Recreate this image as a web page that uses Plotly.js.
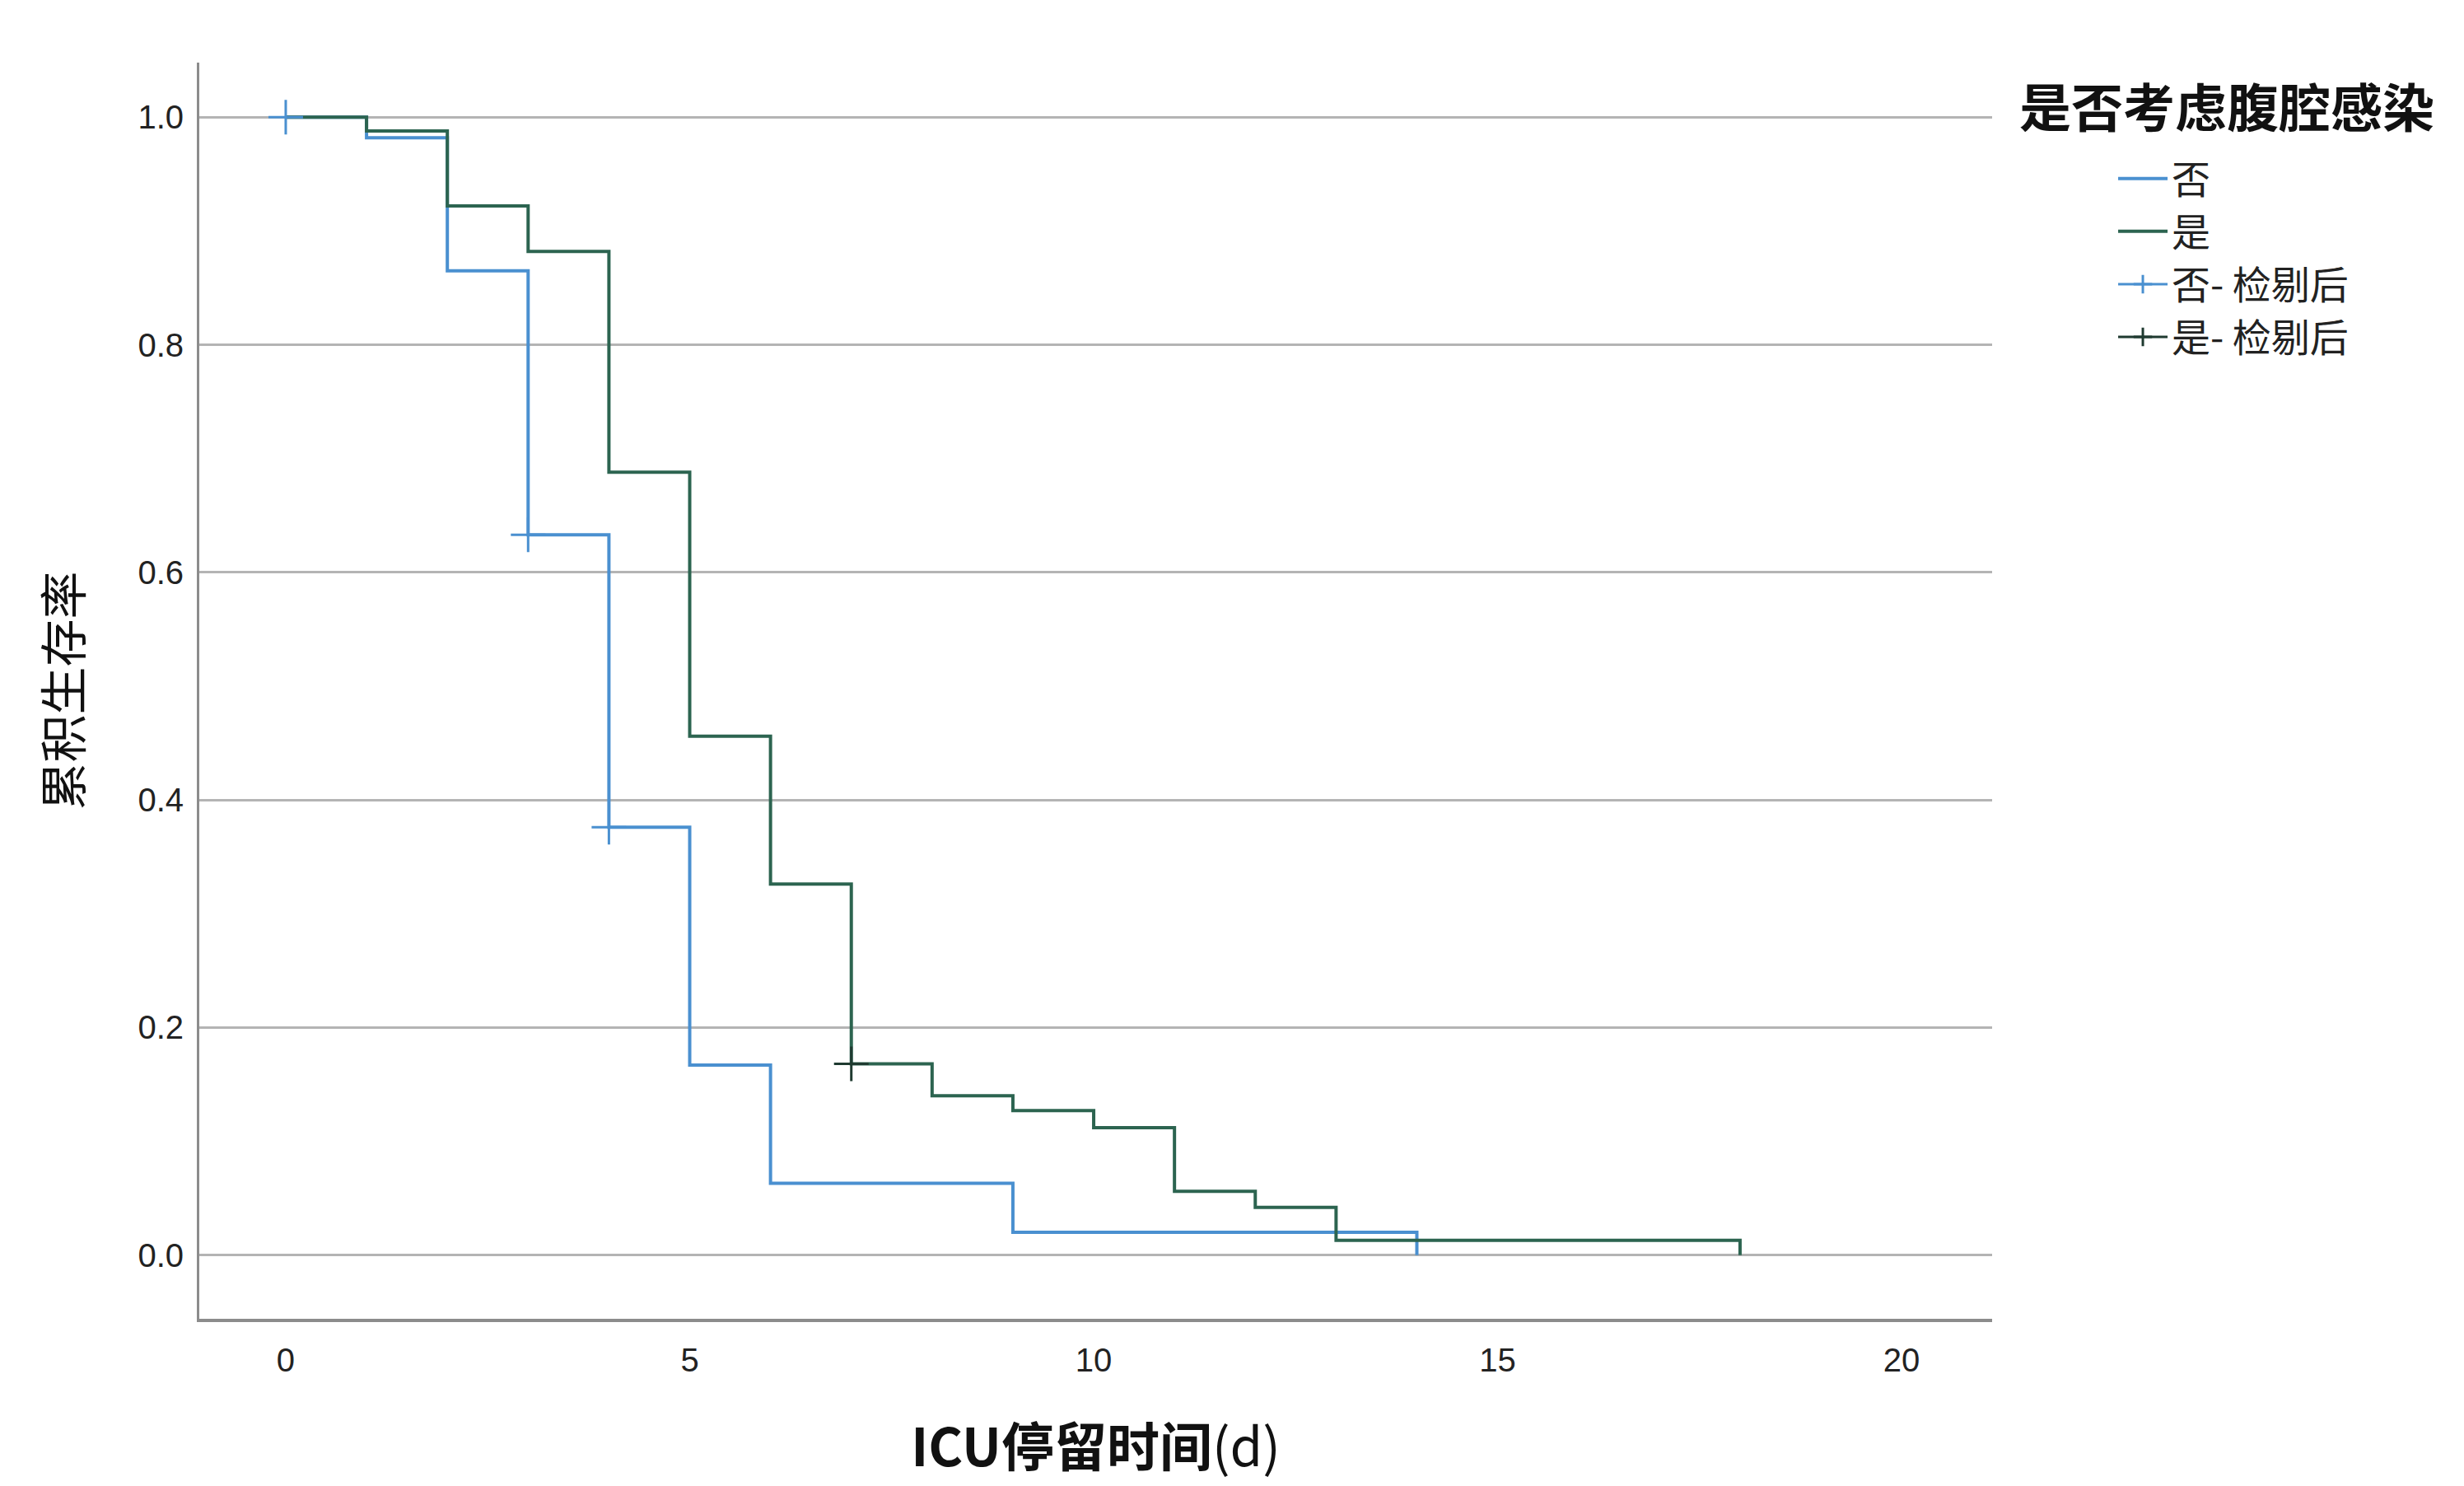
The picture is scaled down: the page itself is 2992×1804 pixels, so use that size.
<!DOCTYPE html>
<html>
<head>
<meta charset="utf-8">
<script src="https://cdn.plot.ly/plotly-3.0.1.min.js"></script>
<style>
  html, body { margin: 0; padding: 0; background: #fff; }
  #chart { width: 2992px; height: 1804px; }
</style>
</head>
<body>
<div id="chart"></div>
<script>
// Kaplan-Meier steps
var group_names = ['否', '是'];
var no_time = [0, 1, 2, 3, 4, 5, 6, 9, 14];
var no_surv = [1.0, 0.982, 0.865, 0.633, 0.376, 0.167, 0.063, 0.020, 0.0];
var yes_time = [0, 1, 2, 3, 4, 5, 6, 7, 8, 9, 10, 11, 12, 13, 18];
var yes_surv = [1.0, 0.988, 0.922, 0.882, 0.688, 0.456, 0.326, 0.168, 0.140, 0.127, 0.112, 0.056, 0.042, 0.013, 0.0];

// censored observations
var no_cens_time = [0, 3, 4];
var no_cens_surv = [1.0, 0.633, 0.376];
var yes_cens_time = [7];
var yes_cens_surv = [0.168];

var x_ticks = [0, 5, 10, 15, 20];
var y_ticks = [0.0, 0.2, 0.4, 0.6, 0.8, 1.0];

var blue = '#4a90d0';
var green = '#2c6450';

function stepTrace(x, y, name, color){
  return {
    x: x,
    y: y,
    name: name,
    mode: 'lines',
    type: 'scatter',
    line: {shape: 'hv', color: color, width: 4},
    hoverinfo: 'x+y+name'
  };
}

// puts a gap between the censor points so the legend gets a line through the cross
// but nothing gets joined on the plot
function withGaps(arr){
  let out = [];
  for (let i = 0; i < arr.length; i++) {
    if (i > 0) out.push(null);
    out.push(arr[i]);
  }
  return out;
}

function censorTrace(x, y, name, color){
  return {
    x: withGaps(x),
    y: withGaps(y),
    name: name,
    mode: 'lines+markers',
    connectgaps: false,
    type: 'scatter',
    line: {color: color, width: 3},
    marker: {symbol: 'cross-thin', size: 30, line: {color: color, width: 3}, color: color},
    hoverinfo: 'x+y+name'
  };
}

var data = [
  stepTrace(no_time, no_surv, group_names[0], blue),
  stepTrace(yes_time, yes_surv, group_names[1], green),
  censorTrace(no_cens_time, no_cens_surv, group_names[0] + '- 检剔后', blue),
  censorTrace(yes_cens_time, yes_cens_surv, group_names[1] + '- 检剔后', '#1f3a30')
];

var layout = {
  width: 2992,
  height: 1804,
  paper_bgcolor: '#fff',
  plot_bgcolor: '#fff',
  margin: {l: 242, r: 573, t: 76, b: 203},
  showlegend: true,
  legend: {
    x: 1.068,
    y: 0.932,
    xanchor: 'left',
    yanchor: 'top',
    itemwidth: 60,
    tracegroupgap: 0,
    font: {family: '"Noto Sans CJK SC", "Liberation Sans", sans-serif', size: 47, color: '#222'}
  },
  xaxis: {
    range: [-1.07, 21.12],
    tickvals: x_ticks,
    ticks: '',
    showgrid: false,
    zeroline: false,
    showline: true,
    linecolor: '#8c8c8c',
    linewidth: 4,
    ticklabelstandoff: 12,
    tickfont: {family: '"Liberation Sans", Arial, sans-serif', size: 40, color: '#222'},
    title: {
      text: '<b>ICU停留时间</b>(d)',
      standoff: 64,
      font: {family: '"Noto Sans CJK SC", sans-serif', size: 64, color: '#111'}
    }
  },
  yaxis: {
    range: [-0.056, 1.048],
    tickvals: y_ticks,
    tickformat: '.1f',
    ticks: '',
    showgrid: true,
    gridcolor: '#b4b4b4',
    gridwidth: 3,
    zeroline: false,
    showline: true,
    linecolor: '#8c8c8c',
    linewidth: 3,
    ticklabelstandoff: 8,
    tickfont: {family: '"Liberation Sans", Arial, sans-serif', size: 40, color: '#222'},
    title: {
      text: '累积生存率',
      standoff: 50,
      font: {family: '"Noto Sans CJK SC", sans-serif', size: 58, color: '#111'}
    }
  },
  annotations: [{
    text: '<b>是否考虑腹腔感染</b>',
    xref: 'paper',
    yref: 'paper',
    x: (2450 - 242) / 2177,
    y: (1601 - 126) / 1525,
    xanchor: 'left',
    yanchor: 'middle',
    showarrow: false,
    font: {family: '"Noto Sans CJK SC", sans-serif', size: 63, color: '#111'}
  }]
};

Plotly.newPlot('chart', data, layout, {displayModeBar: false});
</script>
</body>
</html>
